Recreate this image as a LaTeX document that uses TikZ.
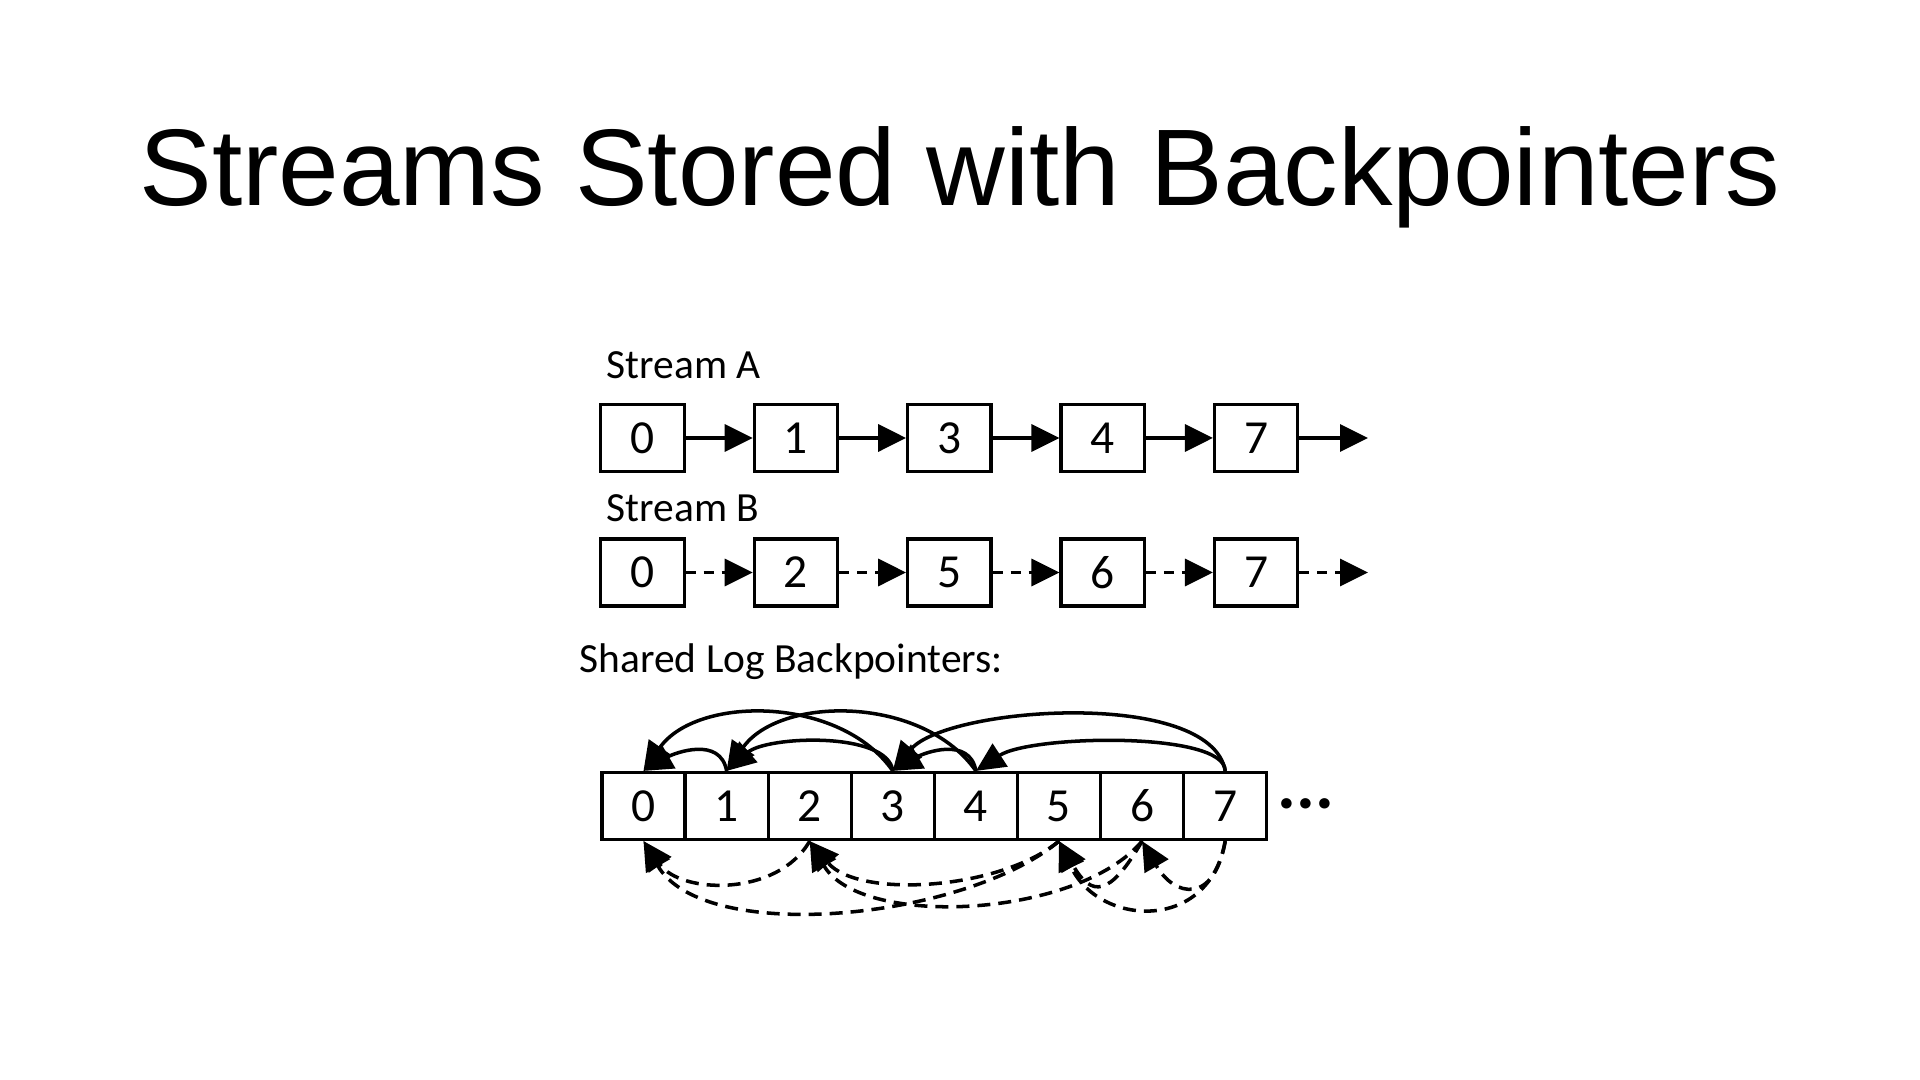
\documentclass[tikz,border=0pt]{standalone}
\usepackage{fontspec}
\setmainfont{Carlito}
\newfontfamily\titlefont{Liberation Sans}
\usetikzlibrary{arrows.meta}

\begin{document}
\begin{tikzpicture}[
		entry/.style={shape=rectangle,draw=black,line width=0.9pt,minimum width=0.833cm,minimum height=0.67cm,inner sep=0pt,font=\fontsize{13.5}{15}\selectfont},
		cell/.style={entry,minimum width=0.831cm},
		streamlabel/.style={anchor=base west,inner sep=0pt,font=\fontsize{11.8}{14}\selectfont},
		streamarrow/.style={line width=1pt,-{Triangle[length=2.8mm,width=2.7mm]}},
		streamarrowb/.style={streamarrow,dash pattern=on 1mm off 0.8mm},
		backptr/.style={line width=1pt,-{Triangle[length=2.9mm,width=2.7mm]}},
		backptrb/.style={backptr,dash pattern=on 1.3mm off 0.8mm}]
		\useasboundingbox (0,0) rectangle (19.2,10.8);
		
		\node[anchor=base,font=\titlefont\fontsize{31}{37}\selectfont] (title) at (9.6,8.74) {Streams Stored with Backpointers};
		
		% stream A
		\node[streamlabel] (labela) at (6.06,7.01) {Stream A};
		\node[entry] (a0) at (6.425,6.42) {0};
		\node[entry] (a1) at (7.959,6.42) {1};
		\node[entry] (a3) at (9.493,6.42) {3};
		\node[entry] (a4) at (11.027,6.42) {4};
		\node[entry] (a7) at (12.561,6.42) {7};
		\coordinate (aend) at (13.68,6.42);
		
		\draw[streamarrow] (a0) -- (a1);
		\draw[streamarrow] (a1) -- (a3);
		\draw[streamarrow] (a3) -- (a4);
		\draw[streamarrow] (a4) -- (a7);
		\draw[streamarrow] (a7) -- (aend);
		
		% stream B
		\node[streamlabel] (labelb) at (6.06,5.58) {Stream B};
		\node[entry] (b0) at (6.425,5.075) {0};
		\node[entry] (b2) at (7.959,5.075) {2};
		\node[entry] (b5) at (9.493,5.075) {5};
		\node[entry] (b6) at (11.027,5.075) {6};
		\node[entry] (b7) at (12.561,5.075) {7};
		\coordinate (bend) at (13.68,5.075);
		
		\draw[streamarrowb] (b0) -- (b2);
		\draw[streamarrowb] (b2) -- (b5);
		\draw[streamarrowb] (b5) -- (b6);
		\draw[streamarrowb] (b6) -- (b7);
		\draw[streamarrowb] (b7) -- (bend);
		
		% shared log
		\node[streamlabel] (labellog) at (5.79,4.07) {Shared Log Backpointers:};
		\node[cell] (l0) at (6.435,2.74) {0};
		\node[cell] (l1) at (7.266,2.74) {1};
		\node[cell] (l2) at (8.097,2.74) {2};
		\node[cell] (l3) at (8.928,2.74) {3};
		\node[cell] (l4) at (9.759,2.74) {4};
		\node[cell] (l5) at (10.590,2.74) {5};
		\node[cell] (l6) at (11.421,2.74) {6};
		\node[cell] (l7) at (12.252,2.74) {7};
		\node[font=\bfseries\fontsize{20}{24}\selectfont] (dots) at (13.06,2.76) {...};
		
		% stream A backpointers
		\draw[backptr] (l1.north) to[out=100,in=30,looseness=1.1] (l0.north);
		\draw[backptr] (l3.north) to[out=125,in=55,looseness=0.95] (l0.north);
		\draw[backptr] (l3.north) .. controls +(-0.05,0.4) and +(0.4,0.35) .. (l1.north);
		\draw[backptr] (l4.north) to[out=125,in=55,looseness=0.95] (l1.north);
		\draw[backptr] (l4.north) to[out=100,in=30,looseness=1.1] (l3.north);
		\draw[backptr] (l7.north) to[out=100,in=50,looseness=0.65] (l3.north);
		\draw[backptr] (l7.north) .. controls +(0,0.4) and +(0.55,0.36) .. (l4.north);
		
		% stream B backpointers
		\draw[backptrb] (l2.south) to[out=-120,in=-55] (l0.south);
		\draw[backptrb] (l5.south) to[out=-140,in=-60,looseness=0.75] (l0.south);
		\draw[backptrb] (l5.south) to[out=-140,in=-50,looseness=0.78] (l2.south);
		\draw[backptrb] (l6.south) to[out=-130,in=-60,looseness=0.78] (l2.south);
		\draw[backptrb] (l6.south) to[out=-120,in=-60,looseness=2] (l5.south);
		\draw[backptrb] (l7.south) to[out=-100,in=-60,looseness=2] (l6.south);
		\draw[backptrb] (l7.south) to[out=-100,in=-65,looseness=1.45] (l5.south);
\end{tikzpicture}
\end{document}
